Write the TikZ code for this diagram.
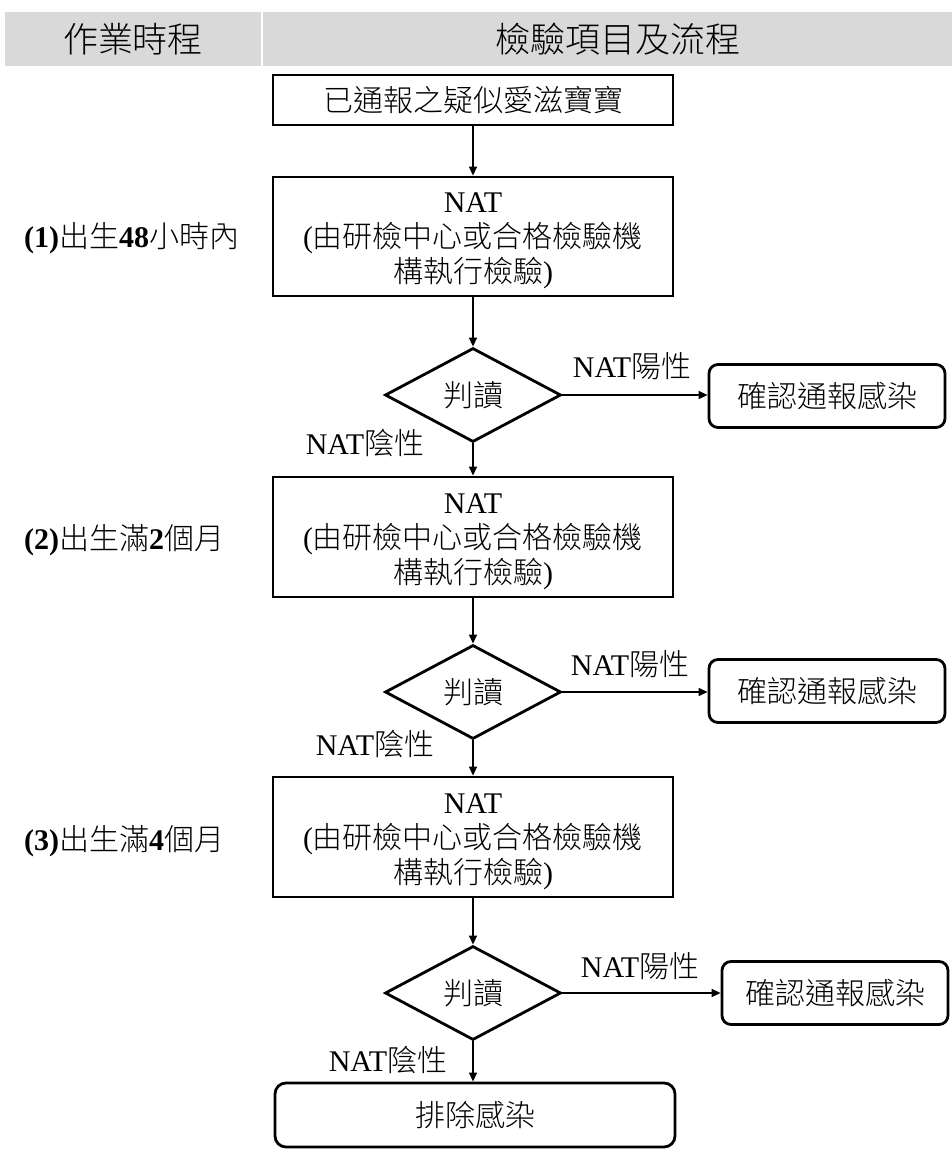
\documentclass[tikz,border=0pt]{standalone}
\usepackage{fontspec}
\setmainfont{Liberation Serif}
\newfontfamily\cjk{Noto Sans CJK TC Light}
\usetikzlibrary{shapes.geometric,arrows.meta}
\newcommand{\zh}[1]{{\cjk #1}}
\newcommand{\nattext}{NAT\rule{0pt}{29pt}\\(\zh{由研檢中心或合格檢驗機}\\\zh{構執行檢驗})}
\definecolor{hdrgray}{HTML}{D9D9D9}
\begin{document}
\begin{tikzpicture}[x=1pt,y=-1pt,
  txt/.style={font=\fontsize{30}{35}\selectfont, inner sep=0pt, align=center},
  box/.style={txt, draw, line width=2.8pt, minimum width=400pt},
  dia/.style={txt, draw, diamond, line width=2.8pt, minimum width=176pt, minimum height=94pt, aspect=1.87},
  conf/.style={txt, draw, rounded corners=9pt, line width=2.8pt, minimum width=236pt, minimum height=63pt},
  lbl/.style={font=\fontsize{30}{36}\selectfont, inner sep=0pt},
  hdr/.style={font=\fontsize{35}{40}\selectfont, inner sep=0pt},
  arr/.style={-{Triangle[length=9pt,width=8pt]}, line width=1.3pt}]
\useasboundingbox (0,0) rectangle (952,1149);
% header
\fill[hdrgray] (5,12) rectangle (261,66);
\fill[hdrgray] (263,12) rectangle (952,66);
\node[hdr] (h1) at (133,39) {\zh{作業時程}};
\node[hdr] (h2) at (618,39) {\zh{檢驗項目及流程}};
% left labels
\node[lbl, anchor=west] (t1) at (24,238) {\textbf{(1)}\zh{出生}\textbf{48}\zh{小時內}};
\node[lbl, anchor=west] (t2) at (24,540) {\textbf{(2)}\zh{出生滿}\textbf{2}\zh{個月}};
\node[lbl, anchor=west] (t3) at (24,841) {\textbf{(3)}\zh{出生滿}\textbf{4}\zh{個月}};
% flow
\node[box, minimum height=50pt] (start) at (473,100) {\zh{已通報之疑似愛滋寶寶}};
\node[box, minimum height=119pt] (nat1) at (473,236.5) {\nattext};
\node[dia] (d1) at (473,395) {\zh{判讀}};
\node[conf] (c1) at (827,396) {\zh{確認通報感染}};
\node[box, minimum height=120pt] (nat2) at (473,537) {\nattext};
\node[dia] (d2) at (473,692) {\zh{判讀}};
\node[conf] (c2) at (827,691) {\zh{確認通報感染}};
\node[box, minimum height=120pt] (nat3) at (473,837) {\nattext};
\node[dia] (d3) at (473,993) {\zh{判讀}};
\node[conf, minimum width=226pt] (c3) at (835,993) {\zh{確認通報感染}};
\node[conf, minimum width=400pt, minimum height=64pt, rounded corners=11pt] (fin) at (475,1115) {\zh{排除感染}};
% edge labels
\node[lbl] (p1) at (632,366) {NAT\zh{陽性}};
\node[lbl] (n1) at (365,443) {NAT\zh{陰性}};
\node[lbl] (p2) at (630,664) {NAT\zh{陽性}};
\node[lbl] (n2) at (375,744) {NAT\zh{陰性}};
\node[lbl] (p3) at (640,966) {NAT\zh{陽性}};
\node[lbl] (n3) at (388,1060) {NAT\zh{陰性}};
% connectors
\draw[arr] (start) -- (nat1);
\draw[arr] (nat1) -- (d1);
\draw[arr] (d1.east) -- (d1.east -| c1.west);
\draw[arr] (d1) -- (nat2);
\draw[arr] (nat2) -- (d2);
\draw[arr] (d2.east) -- (d2.east -| c2.west);
\draw[arr] (d2) -- (nat3);
\draw[arr] (nat3) -- (d3);
\draw[arr] (d3.east) -- (d3.east -| c3.west);
\draw[arr] (d3.south) -- (d3.south |- fin.north);
\end{tikzpicture}
\end{document}
